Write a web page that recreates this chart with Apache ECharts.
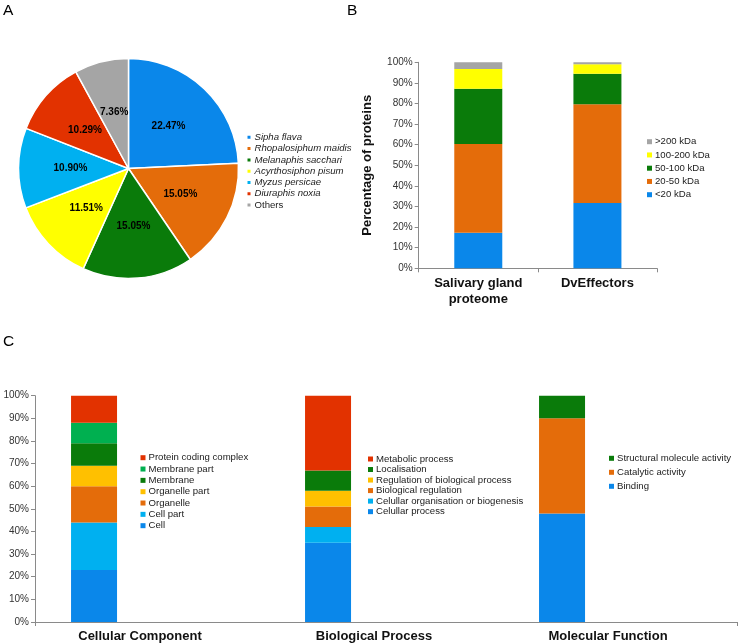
<!DOCTYPE html>
<html><head><meta charset="utf-8">
<script src="https://cdn.jsdelivr.net/npm/echarts@6/dist/echarts.min.js"></script>
<style>html,body{margin:0;padding:0;background:#fff}#c{width:740px;height:644px}</style>
</head><body><div id="c"></div>
<script>
// Panel A: species distribution
const pieNames = ['Sipha flava','Rhopalosiphum maidis','Melanaphis sacchari','Acyrthosiphon pisum','Myzus persicae','Diuraphis noxia','Others'];
const pieValues = [22.47,15.05,15.05,11.51,10.90,10.29,7.36];
const pieColors = ['#0a87ea','#e46c0a','#0a7b0a','#ffff00','#00b0f0','#e23200','#a5a5a5'];

// Panel B: molecular size
const sizeCats = ['Salivary gland\nproteome','DvEffectors'];
const sizeNames = ['<20 kDa','20-50 kDa','50-100 kDa','100-200 kDa','>200 kDa'];
const sizeValues = [[17.2,31.7],[43.2,47.9],[26.8,14.9],[9.6,4.5],[3.2,1.0]];
const sizeColors = ['#0a87ea','#e46c0a','#0a7b0a','#ffff00','#a5a5a5'];

// Panel C: GO categories
const goCats = ['Cellular Component','Biological Process','Molecular Function'];
const ccNames = ['Cell','Cell part','Organelle','Organelle part','Membrane','Membrane part','Protein coding complex'];
const ccValues = [23,21,16,9,10,9,12];
const ccColors = ['#0a87ea','#00b0f0','#e46c0a','#ffc000','#0a7b0a','#00b050','#e23200'];
const bpNames = ['Celullar process','Celullar organisation or biogenesis','Biological regulation','Regulation of biological process','Localisation','Metabolic process'];
const bpValues = [35,7,9,7,9,33];
const bpColors = ['#0a87ea','#00b0f0','#e46c0a','#ffc000','#0a7b0a','#e23200'];
const mfNames = ['Binding','Catalytic activity','Structural molecule activity'];
const mfValues = [48,42,10];
const mfColors = ['#0a87ea','#e46c0a','#0a7b0a'];

const FF = 'Liberation Sans, Arial, sans-serif';
const chart = echarts.init(document.getElementById('c'), null, {renderer:'canvas'});

const series = [];
series.push({
  type:'pie', center:[128.5,168.5], radius:110, startAngle:90, clockwise:true,
  animation:false,
  itemStyle:{borderColor:'#fff', borderWidth:1.5},
  label:{show:true, position:'inside', formatter:p=>p.value.toFixed(2)+'%', color:'#000', fontWeight:'bold', fontSize:10, fontFamily:FF},
  labelLine:{show:false},
  data: pieNames.map((n,i)=>({name:n, value:pieValues[i], itemStyle:{color:pieColors[i]}}))
});
sizeNames.forEach((n,i)=>{
  series.push({type:'bar', name:n, stack:'b', xAxisIndex:0, yAxisIndex:0, barWidth:48,
    itemStyle:{color:sizeColors[i]}, data:sizeValues[i], animation:false});
});
function goSeries(names, values, colors, idx){
  names.forEach((n,i)=>{
    const d = goCats.map((c,j)=> j===idx ? values[i] : '-');
    series.push({type:'bar', name:n, stack:'c', xAxisIndex:1, yAxisIndex:1, barWidth:46, barGap:'152%',
      itemStyle:{color:colors[i]}, data:d, animation:false});
  });
}
goSeries(ccNames, ccValues, ccColors, 0);
goSeries(bpNames, bpValues, bpColors, 1);
goSeries(mfNames, mfValues, mfColors, 2);
series.push({type:'bar', name:'_pad', stack:'pad', xAxisIndex:1, yAxisIndex:1, barWidth:46, barGap:'152%',
  itemStyle:{color:'rgba(0,0,0,0)'}, data:[0,0,0], animation:false, silent:true});

const axisLineStyle = {lineStyle:{color:'#8a8a8a', width:1}};
const yAxisCommon = {type:'value', min:0, max:100, interval:10,
  axisLine:{show:true, ...axisLineStyle}, axisTick:{show:true, length:4, lineStyle:{color:'#8a8a8a'}},
  splitLine:{show:false},
  axisLabel:{formatter:'{value}%', color:'#333', fontSize:10, fontFamily:FF, margin:6}};

function legend(names, left, top, lh, gap){
  return {orient:'vertical', left:left, top:top, padding:0, itemWidth:5, itemHeight:5, itemGap:gap,
    icon:'rect', data:names.slice().reverse(), selectedMode:false,
    textStyle:{fontSize:9.6, fontFamily:FF, color:'#222', lineHeight:lh, padding:[0,0,0,-2]}};
}

const option = {
  backgroundColor:'#fff',
  animation:false,
  title:[
    {text:'A', left:3, top:3, padding:0, textStyle:{fontSize:15.5, fontWeight:'normal', fontFamily:FF, color:'#000'}},
    {text:'B', left:347, top:3, padding:0, textStyle:{fontSize:15.5, fontWeight:'normal', fontFamily:FF, color:'#000'}},
    {text:'C', left:3, top:334, padding:0, textStyle:{fontSize:15.5, fontWeight:'normal', fontFamily:FF, color:'#000'}}
  ],
  legend:[
    {orient:'vertical', left:245.5, top:131.8, padding:0, itemWidth:5, itemHeight:5, itemGap:0.3, icon:'rect',
     selectedMode:false, data:pieNames.slice(),
     formatter: n => n==='Others' ? n : '{i|'+n+'}',
     textStyle:{fontSize:9.6, fontFamily:FF, color:'#222', lineHeight:11, padding:[0,0,0,-2],
       rich:{i:{fontStyle:'italic', fontSize:9.6, fontFamily:FF, color:'#222'}}}},
    legend(sizeNames, 647, 136.2, 11, 2.25),
    legend(ccNames, 140.5, 452.2, 11, 0.33),
    legend(bpNames, 368, 454.0, 10, 0.53),
    legend(mfNames, 609, 452.8, 11, 3)
  ],
  grid:[
    {left:418.7, right:83, top:62.3, bottom:375.7, containLabel:false},
    {left:35, right:3, top:395.7, bottom:21.7, containLabel:false}
  ],
  xAxis:[
    {type:'category', gridIndex:0, data:sizeCats, axisLine:{show:true, ...axisLineStyle},
     axisTick:{show:true, length:4, lineStyle:{color:'#8a8a8a'}},
     axisLabel:{color:'#111', fontWeight:'bold', fontSize:13, fontFamily:FF, lineHeight:16, margin:7, interval:0}},
    {type:'category', gridIndex:1, data:goCats, axisLine:{show:true, ...axisLineStyle},
     axisTick:{show:true, length:4, lineStyle:{color:'#8a8a8a'}, interval:(i)=> i===0 || i>=3},
     axisLabel:{color:'#111', fontWeight:'bold', fontSize:13, fontFamily:FF, lineHeight:15, margin:7, interval:0, padding:[0,24,0,0]}}
  ],
  yAxis:[
    {...yAxisCommon, gridIndex:0, name:'Percentage of proteins', nameLocation:'middle', nameGap:44.5,
     nameTextStyle:{fontWeight:'bold', fontSize:13, fontFamily:FF, color:'#111'}},
    {...yAxisCommon, gridIndex:1}
  ],
  series: series
};
chart.setOption(option);
</script>
</body></html>
